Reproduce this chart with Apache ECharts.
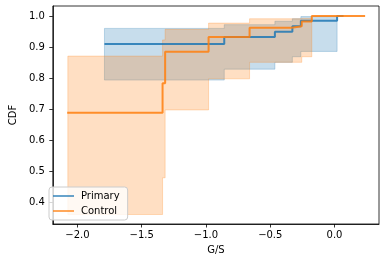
<!DOCTYPE html>
<html><head><meta charset="utf-8">
<script src="https://cdn.jsdelivr.net/npm/echarts@6/dist/echarts.min.js"></script>
<style>html,body{margin:0;padding:0;background:#fff}#c{width:386px;height:262px}</style>
</head><body><div id="c"></div>
<script>
// Primary (blue) step CDF
var primaryX = [-1.79, -0.858, -0.464, -0.328, -0.262, 0.02, 0.07];
var primaryY = [0.91, 0.932, 0.949, 0.967, 0.985, 1.0, 1.0];
var primaryBandX = [-1.79, -0.858, -0.464, -0.328, -0.262, 0.02];
var primaryLo = [0.794, 0.829, 0.851, 0.869, 0.886];
var primaryHi = [0.96, 0.972, 0.983, 0.991, 0.998];
// Control (orange) step CDF
var controlX = [-2.08, -1.338, -1.318, -0.98, -0.661, -0.333, -0.255, -0.177, 0.238];
var controlY = [0.689, 0.784, 0.885, 0.932, 0.962, 0.967, 0.982, 1.0, 1.0];
var controlBandX = [-2.075, -1.338, -1.318, -0.98, -0.661, -0.333, -0.255, -0.177];
var controlLo = [0.362, 0.48, 0.698, 0.798, 0.851, 0.851, 0.869];
var controlHi = [0.871, 0.923, 0.957, 0.977, 0.991, 0.991, 0.992];
// ticks
var xTicks = [-2.0, -1.5, -1.0, -0.5, 0.0];
var yTicks = [0.4, 0.5, 0.6, 0.7, 0.8, 0.9, 1.0];

function zip(a, b) { return a.map(function (v, i) { return [v, b[i]]; }); }
function fmt(v) { return (v < 0 ? '\u2212' : '') + Math.abs(v).toFixed(1); }

function band(name, edges, lo, hi, rgb) {
  return {
    type: 'custom', name: name + ' band', silent: true, clip: true, z: 1,
    data: [[edges[0], lo[0]]],
    renderItem: function (params, api) {
      var pts = [];
      for (var i = 0; i < hi.length; i++) {
        pts.push(api.coord([edges[i], hi[i]]));
        pts.push(api.coord([edges[i + 1], hi[i]]));
      }
      for (var j = lo.length - 1; j >= 0; j--) {
        pts.push(api.coord([edges[j + 1], lo[j]]));
        pts.push(api.coord([edges[j], lo[j]]));
      }
      return {
        type: 'polygon', shape: { points: pts },
        style: { fill: 'rgba(' + rgb + ',0.25)', stroke: 'rgba(' + rgb + ',0.25)', lineWidth: 1 }
      };
    }
  };
}

var font = 'DejaVu Sans';
var chart = echarts.init(document.getElementById('c'), null, { renderer: 'canvas' });
chart.setOption({
  animation: false,
  backgroundColor: '#fff',
  textStyle: { fontFamily: font },
  grid: { left: 44, right: 7, top: 6, bottom: 38, show: true, borderColor: '#000', borderWidth: 0.8, backgroundColor: 'transparent' },
  xAxis: {
    type: 'value', min: -2.192, max: 0.346,
    name: 'G/S', nameLocation: 'middle', nameGap: 21,
    nameTextStyle: { fontFamily: font, fontSize: 10, color: '#000' },
    axisLine: { show: true, onZero: false, lineStyle: { color: '#000', width: 0.8 } },
    axisTick: { show: true, length: 3.5, lineStyle: { color: '#000', width: 0.8 }, customValues: xTicks },
    axisLabel: { fontFamily: font, fontSize: 10, color: '#000', margin: 6, customValues: xTicks, formatter: fmt },
    splitLine: { show: false }
  },
  yAxis: {
    type: 'value', min: 0.3315, max: 1.032,
    name: 'CDF', nameLocation: 'middle', nameGap: 28, nameRotate: 90,
    nameTextStyle: { fontFamily: font, fontSize: 10, color: '#000' },
    axisLine: { show: true, onZero: false, lineStyle: { color: '#000', width: 0.8 } },
    axisTick: { show: true, length: 3.5, lineStyle: { color: '#000', width: 0.8 }, customValues: yTicks },
    axisLabel: { fontFamily: font, fontSize: 10, color: '#000', margin: 8, customValues: yTicks, formatter: function (v) { return v.toFixed(1); } },
    splitLine: { show: false }
  },
  legend: {
    left: 49, top: 187, orient: 'vertical',
    data: [
      { name: 'Primary', icon: 'rect', itemStyle: { color: 'rgba(31,119,180,0.8)' } },
      { name: 'Control', icon: 'rect', itemStyle: { color: 'rgba(255,127,14,0.8)' } }
    ],
    itemWidth: 21, itemHeight: 2, itemGap: 5,
    padding: [4, 8, 4, 4],
    backgroundColor: 'rgba(255,255,255,0.8)', borderColor: '#cccccc', borderWidth: 1, borderRadius: 3,
    textStyle: { fontFamily: font, fontSize: 10, color: '#000', lineHeight: 10, padding: [0, 0, 0, 2] }
  },
  series: [
    band('Primary', primaryBandX, primaryLo, primaryHi, '31,119,180'),
    band('Control', controlBandX, controlLo, controlHi, '255,127,14'),
    {
      type: 'line', name: 'Primary', step: 'end', data: zip(primaryX, primaryY),
      symbol: 'none', showSymbol: false, z: 3,
      lineStyle: { color: '#1f77b4', width: 2, opacity: 0.85 }, itemStyle: { color: '#1f77b4', opacity: 0.85 }
    },
    {
      type: 'line', name: 'Control', step: 'end', data: zip(controlX, controlY),
      symbol: 'none', showSymbol: false, z: 4,
      lineStyle: { color: '#ff7f0e', width: 2, opacity: 0.85 }, itemStyle: { color: '#ff7f0e', opacity: 0.85 }
    }
  ]
});
</script></body></html>
